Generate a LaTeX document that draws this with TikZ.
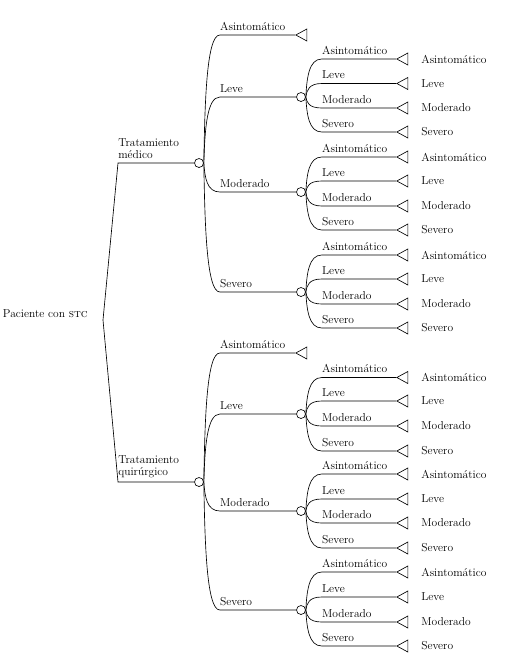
\documentclass[tikz,border=0pt]{standalone}
\usepackage{tikz}
\usetikzlibrary{shapes.geometric}
\usetikzlibrary{positioning}
\usetikzlibrary{calc}

\begin{document}
\begin{tikzpicture}
          [x=1pt, y=-1pt, line width=0.65pt,
           every node/.style={font=\fontsize{11.5}{12}\selectfont},
           chance/.style={draw, circle, inner sep=0pt, minimum size=9pt},
           terminal/.style={draw, isosceles triangle, shape border rotate=180,
             isosceles triangle stretches, minimum width=12pt, minimum height=11pt,
             inner sep=0pt, anchor=apex},
           brlab/.style={at start, anchor=base west, yshift=5pt, inner sep=0pt},
           outlab/.style={anchor=west, inner sep=0pt},
           branch/.style={to path={let \p1=(\tikztostart.east), \p2=(\tikztotarget) in
             (\p1) .. controls ({\x1+1pt},{(\y1+\y2)/2}) and ({\x1+3pt},\y2)
             .. ({\x1+16pt},\y2) -- (\tikztotarget) \tikztonodes}}]
          \useasboundingbox (0,0) rectangle (518,659);

          \coordinate (r) at (103,320);
          \node (pac) [left=15pt of r, yshift=6pt, inner sep=0pt] {Paciente con \textsc{stc}};
          \coordinate (k1) at (118,163);
          \coordinate (k2) at (118,482);
          \node (c1) [chance] at (199,163) {};
          \node (c2) [chance] at (199,482) {};
          \draw (r) -- (k1) -- (c1);
          \draw (r) -- (k2) -- (c2);
          \node (d1) [anchor=south west, align=left, inner sep=0pt] at ([yshift=4pt]k1) {Tratamiento\\médico};
          \node (d2) [anchor=south west, align=left, inner sep=0pt] at ([yshift=4pt]k2) {Tratamiento\\quirúrgico};

          % tratamiento medico
          \node (t10) [terminal] at (295,35) {};
          \node (c11) [chance] at (301,97) {};
          \node (c12) [chance] at (301,192) {};
          \node (c13) [chance] at (301,292) {};
          \draw (c1) to[branch] node[brlab] (b10) {Asintomático} (t10);
          \draw (c1) to[branch] node[brlab] (b11) {Leve} (c11);
          \draw (c1) to[branch] node[brlab] (b12) {Moderado} (c12);
          \draw (c1) to[branch] node[brlab] (b13) {Severo} (c13);

          \node (t111) [terminal] at (396,59) {};
          \node (t112) [terminal] at (396,83.5) {};
          \node (t113) [terminal] at (396,108) {};
          \node (t114) [terminal] at (396,132) {};
          \draw (c11) to[branch] node[brlab] (b111) {Asintomático} (t111);
          \draw (c11) to[branch] node[brlab] (b112) {Leve} (t112);
          \draw (c11) to[branch] node[brlab] (b113) {Moderado} (t113);
          \draw (c11) to[branch] node[brlab] (b114) {Severo} (t114);
          \node (o111) [outlab, right=25pt of t111.apex] {Asintomático};
          \node (o112) [outlab, right=25pt of t112.apex] {Leve};
          \node (o113) [outlab, right=25pt of t113.apex] {Moderado};
          \node (o114) [outlab, right=25pt of t114.apex] {Severo};

          \node (t121) [terminal] at (396,157) {};
          \node (t122) [terminal] at (396,181) {};
          \node (t123) [terminal] at (396,206) {};
          \node (t124) [terminal] at (396,230) {};
          \draw (c12) to[branch] node[brlab] (b121) {Asintomático} (t121);
          \draw (c12) to[branch] node[brlab] (b122) {Leve} (t122);
          \draw (c12) to[branch] node[brlab] (b123) {Moderado} (t123);
          \draw (c12) to[branch] node[brlab] (b124) {Severo} (t124);
          \node (o121) [outlab, right=25pt of t121.apex] {Asintomático};
          \node (o122) [outlab, right=25pt of t122.apex] {Leve};
          \node (o123) [outlab, right=25pt of t123.apex] {Moderado};
          \node (o124) [outlab, right=25pt of t124.apex] {Severo};

          \node (t131) [terminal] at (396,255) {};
          \node (t132) [terminal] at (396,279) {};
          \node (t133) [terminal] at (396,304) {};
          \node (t134) [terminal] at (396,328) {};
          \draw (c13) to[branch] node[brlab] (b131) {Asintomático} (t131);
          \draw (c13) to[branch] node[brlab] (b132) {Leve} (t132);
          \draw (c13) to[branch] node[brlab] (b133) {Moderado} (t133);
          \draw (c13) to[branch] node[brlab] (b134) {Severo} (t134);
          \node (o131) [outlab, right=25pt of t131.apex] {Asintomático};
          \node (o132) [outlab, right=25pt of t132.apex] {Leve};
          \node (o133) [outlab, right=25pt of t133.apex] {Moderado};
          \node (o134) [outlab, right=25pt of t134.apex] {Severo};

          % tratamiento quirurgico
          \node (t20) [terminal] at (295,353) {};
          \node (c21) [chance] at (301,414) {};
          \node (c22) [chance] at (301,511) {};
          \node (c23) [chance] at (301,610) {};
          \draw (c2) to[branch] node[brlab] (b20) {Asintomático} (t20);
          \draw (c2) to[branch] node[brlab] (b21) {Leve} (c21);
          \draw (c2) to[branch] node[brlab] (b22) {Moderado} (c22);
          \draw (c2) to[branch] node[brlab] (b23) {Severo} (c23);

          \node (t211) [terminal] at (396,377.5) {};
          \node (t212) [terminal] at (396,401) {};
          \node (t213) [terminal] at (396,426) {};
          \node (t214) [terminal] at (396,451) {};
          \draw (c21) to[branch] node[brlab] (b211) {Asintomático} (t211);
          \draw (c21) to[branch] node[brlab] (b212) {Leve} (t212);
          \draw (c21) to[branch] node[brlab] (b213) {Moderado} (t213);
          \draw (c21) to[branch] node[brlab] (b214) {Severo} (t214);
          \node (o211) [outlab, right=25pt of t211.apex] {Asintomático};
          \node (o212) [outlab, right=25pt of t212.apex] {Leve};
          \node (o213) [outlab, right=25pt of t213.apex] {Moderado};
          \node (o214) [outlab, right=25pt of t214.apex] {Severo};

          \node (t221) [terminal] at (396,474) {};
          \node (t222) [terminal] at (396,499) {};
          \node (t223) [terminal] at (396,523) {};
          \node (t224) [terminal] at (396,548) {};
          \draw (c22) to[branch] node[brlab] (b221) {Asintomático} (t221);
          \draw (c22) to[branch] node[brlab] (b222) {Leve} (t222);
          \draw (c22) to[branch] node[brlab] (b223) {Moderado} (t223);
          \draw (c22) to[branch] node[brlab] (b224) {Severo} (t224);
          \node (o221) [outlab, right=25pt of t221.apex] {Asintomático};
          \node (o222) [outlab, right=25pt of t222.apex] {Leve};
          \node (o223) [outlab, right=25pt of t223.apex] {Moderado};
          \node (o224) [outlab, right=25pt of t224.apex] {Severo};

          \node (t231) [terminal] at (396,572) {};
          \node (t232) [terminal] at (396,597) {};
          \node (t233) [terminal] at (396,622) {};
          \node (t234) [terminal] at (396,646) {};
          \draw (c23) to[branch] node[brlab] (b231) {Asintomático} (t231);
          \draw (c23) to[branch] node[brlab] (b232) {Leve} (t232);
          \draw (c23) to[branch] node[brlab] (b233) {Moderado} (t233);
          \draw (c23) to[branch] node[brlab] (b234) {Severo} (t234);
          \node (o231) [outlab, right=25pt of t231.apex] {Asintomático};
          \node (o232) [outlab, right=25pt of t232.apex] {Leve};
          \node (o233) [outlab, right=25pt of t233.apex] {Moderado};
          \node (o234) [outlab, right=25pt of t234.apex] {Severo};
        \end{tikzpicture}
\end{document}
